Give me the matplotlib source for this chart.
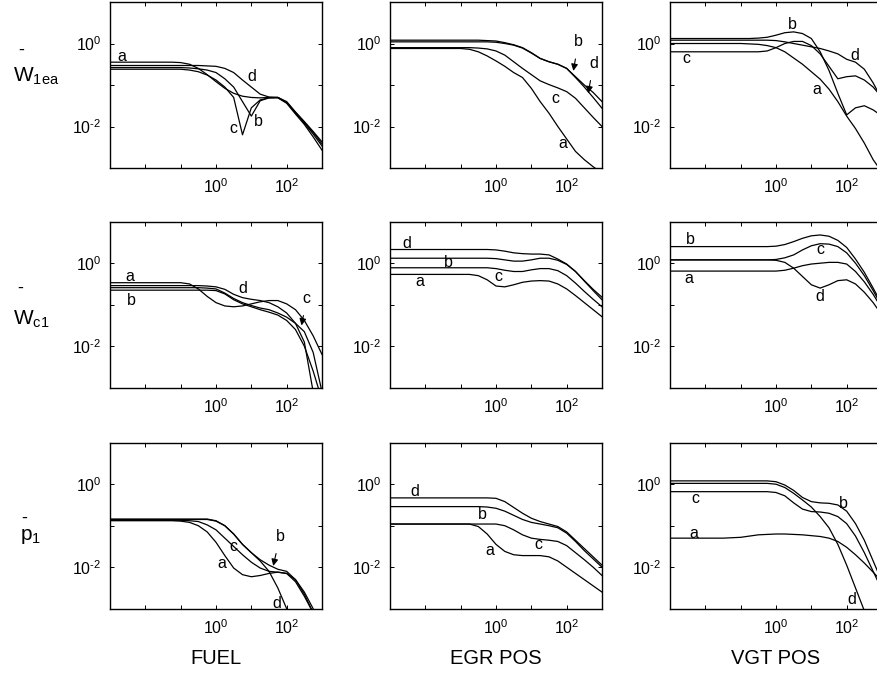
import numpy as np
import matplotlib
matplotlib.use("Agg")
import matplotlib.pyplot as plt
from matplotlib.ticker import FixedLocator, FuncFormatter, NullLocator

plt.rcParams['font.family'] = ['Liberation Sans', 'DejaVu Sans']
plt.rcParams['mathtext.fontset'] = 'custom'
plt.rcParams['mathtext.rm'] = 'Liberation Sans'
plt.rcParams['mathtext.it'] = 'Liberation Sans'
plt.rcParams['mathtext.default'] = 'regular'

# frequency grid, log10 (rad/s)
log_w = [-3.0, -2.75, -2.5, -2.25, -2.0, -1.75, -1.5, -1.25, -1.0, -0.75, -0.5, -0.25,
         0.0, 0.25, 0.5, 0.75, 1.0, 1.25, 1.5, 1.75, 2.0, 2.25, 2.5, 2.75, 3.0]

# magnitudes, log10
# row 1: W1ea
w1ea_fuel_a = [-0.45]*8 + [-0.46, -0.50, -0.60, -0.75, -0.92, -1.08, -1.20, -1.27, -1.30, -1.31, -1.30, -1.30, -1.42, -1.68, -1.92, -2.18, -2.47]
w1ea_fuel_b = [-0.58]*8 + [-0.58, -0.59, -0.61, -0.64, -0.70, -0.85, -1.05, -1.40, -1.75, -1.38, -1.31, -1.30, -1.42, -1.66, -1.90, -2.14, -2.42]
w1ea_fuel_c = [-0.62]*8 + [-0.62, -0.64, -0.68, -0.76, -0.88, -1.05, -1.30, -2.20, -1.55, -1.36, -1.31, -1.31, -1.44, -1.70, -1.95, -2.25, -2.57]
w1ea_fuel_d = [-0.53]*8 + [-0.53, -0.53, -0.53, -0.54, -0.55, -0.60, -0.70, -0.88, -1.05, -1.22, -1.29, -1.30, -1.40, -1.65, -1.88, -2.12, -2.37]

w1ea_egr_a = [-0.12]*8 + [-0.12, -0.14, -0.20, -0.30, -0.42, -0.55, -0.70, -0.82, -1.08, -1.40, -1.68, -2.00, -2.30, -2.60, -2.80, -2.97, -3.12]
w1ea_egr_b = [0.08]*8 + [0.08, 0.08, 0.08, 0.07, 0.06, 0.02, -0.03, -0.10, -0.22, -0.36, -0.44, -0.50, -0.60, -0.80, -1.00, -1.18, -1.40]
w1ea_egr_c = [-0.10]*8 + [-0.10, -0.10, -0.11, -0.13, -0.18, -0.28, -0.44, -0.60, -0.75, -0.90, -0.99, -1.07, -1.16, -1.32, -1.55, -1.78, -2.00]
w1ea_egr_d = [0.04]*8 + [0.04, 0.04, 0.04, 0.04, 0.03, 0.00, -0.04, -0.11, -0.23, -0.36, -0.44, -0.50, -0.60, -0.82, -1.05, -1.30, -1.56]

w1ea_vgt_a = [0.00]*8 + [0.00, -0.01, -0.02, -0.05, -0.10, -0.20, -0.35, -0.50, -0.68, -0.86, -1.10, -1.40, -1.75, -2.05, -2.40, -2.80, -3.10]
w1ea_vgt_b = [0.12]*8 + [0.12, 0.12, 0.13, 0.15, 0.20, 0.26, 0.28, 0.24, 0.12, -0.20, -0.65, -1.20, -1.72, -1.55, -1.50, -1.60, -1.75]
w1ea_vgt_c = [-0.20]*8 + [-0.20, -0.20, -0.20, -0.18, -0.10, 0.00, 0.05, 0.05, -0.05, -0.25, -0.55, -0.85, -0.80, -0.78, -0.88, -1.05, -1.30]
w1ea_vgt_d = [0.08]*8 + [0.08, 0.08, 0.08, 0.08, 0.07, 0.04, 0.00, -0.04, -0.08, -0.12, -0.18, -0.25, -0.38, -0.45, -0.62, -0.95, -1.35]

# row 2: Wc1
wc1_fuel_a = [-0.47]*8 + [-0.47, -0.50, -0.62, -0.80, -0.95, -1.03, -1.05, -1.03, -0.98, -0.93, -0.90, -0.90, -0.98, -1.12, -1.38, -1.75, -2.20]
wc1_fuel_b = [-0.65]*8 + [-0.65, -0.65, -0.65, -0.65, -0.66, -0.74, -0.88, -0.98, -1.05, -1.12, -1.18, -1.25, -1.38, -1.60, -2.00, -2.60, -3.30]
wc1_fuel_c = [-0.59]*8 + [-0.59, -0.59, -0.59, -0.60, -0.62, -0.72, -0.85, -0.95, -1.02, -1.08, -1.12, -1.20, -1.30, -1.45, -1.65, -2.15, -3.10]
wc1_fuel_d = [-0.54]*8 + [-0.54, -0.54, -0.54, -0.55, -0.57, -0.63, -0.75, -0.83, -0.87, -0.90, -0.95, -1.05, -1.20, -1.45, -1.90, -3.10, -3.50]

wc1_egr_a = [-0.27]*8 + [-0.27, -0.27, -0.30, -0.40, -0.55, -0.57, -0.52, -0.46, -0.43, -0.42, -0.43, -0.50, -0.62, -0.78, -0.95, -1.12, -1.29]
wc1_egr_b = [0.12]*8 + [0.12, 0.12, 0.12, 0.12, 0.11, 0.08, 0.05, 0.05, 0.08, 0.12, 0.12, 0.07, -0.03, -0.20, -0.43, -0.66, -0.88]
wc1_egr_c = [-0.11]*8 + [-0.11, -0.11, -0.11, -0.11, -0.13, -0.17, -0.20, -0.20, -0.16, -0.13, -0.13, -0.18, -0.30, -0.48, -0.68, -0.87, -1.05]
wc1_egr_d = [0.33]*8 + [0.33, 0.33, 0.33, 0.33, 0.32, 0.29, 0.25, 0.23, 0.22, 0.22, 0.20, 0.10, -0.02, -0.20, -0.42, -0.63, -0.82]

wc1_vgt_a = [-0.19]*8 + [-0.19, -0.19, -0.19, -0.19, -0.19, -0.17, -0.12, -0.06, -0.02, 0.00, 0.02, 0.02, -0.02, -0.20, -0.45, -0.75, -1.10]
wc1_vgt_b = [0.40]*8 + [0.40, 0.40, 0.40, 0.40, 0.41, 0.45, 0.52, 0.60, 0.66, 0.68, 0.65, 0.55, 0.38, 0.10, -0.22, -0.60, -1.00]
wc1_vgt_c = [0.08]*8 + [0.08, 0.08, 0.08, 0.08, 0.09, 0.13, 0.20, 0.32, 0.42, 0.47, 0.46, 0.40, 0.25, 0.00, -0.30, -0.66, -1.05]
wc1_vgt_d = [0.08]*8 + [0.08, 0.08, 0.08, 0.08, 0.07, 0.02, -0.12, -0.32, -0.52, -0.60, -0.52, -0.42, -0.40, -0.50, -0.70, -0.95, -1.25]

# row 3: p1
p1_fuel_a = [-0.88]*8 + [-0.89, -0.92, -1.00, -1.15, -1.40, -1.72, -2.02, -2.18, -2.23, -2.20, -2.15, -2.12, -2.15, -2.35, -2.70, -3.10, -3.50]
p1_fuel_b = [-0.84]*8 + [-0.84, -0.84, -0.84, -0.84, -0.88, -1.00, -1.20, -1.45, -1.65, -1.82, -1.95, -2.05, -2.10, -2.30, -2.60, -3.00, -3.40]
p1_fuel_c = [-0.87]*8 + [-0.87, -0.88, -0.90, -0.98, -1.10, -1.30, -1.50, -1.70, -1.88, -2.02, -2.10, -2.12, -2.15, -2.30, -2.65, -3.10, -3.50]
p1_fuel_d = [-0.85]*8 + [-0.85, -0.85, -0.85, -0.85, -0.89, -1.00, -1.20, -1.45, -1.65, -1.85, -2.10, -2.50, -3.00, -3.50, -4.00, -4.50, -5.00]

p1_egr_a = [-0.96]*8 + [-0.96, -0.96, -1.02, -1.20, -1.45, -1.62, -1.70, -1.72, -1.72, -1.72, -1.75, -1.85, -2.00, -2.15, -2.30, -2.45, -2.60]
p1_egr_b = [-0.54]*8 + [-0.54, -0.54, -0.54, -0.55, -0.58, -0.65, -0.75, -0.85, -0.92, -0.96, -1.00, -1.05, -1.18, -1.38, -1.60, -1.80, -2.00]
p1_egr_c = [-0.96]*8 + [-0.96, -0.96, -0.96, -0.96, -0.96, -1.00, -1.10, -1.22, -1.30, -1.33, -1.35, -1.38, -1.48, -1.65, -1.82, -2.00, -2.20]
p1_egr_d = [-0.33]*8 + [-0.33, -0.33, -0.33, -0.33, -0.34, -0.42, -0.56, -0.70, -0.82, -0.90, -0.96, -1.02, -1.15, -1.35, -1.55, -1.75, -1.95]

p1_vgt_a = [-1.30]*6 + [-1.30, -1.29, -1.28, -1.25, -1.22, -1.21, -1.20, -1.20, -1.21, -1.22, -1.24, -1.26, -1.30, -1.38, -1.52, -1.70, -1.90, -2.12, -2.35]
p1_vgt_b = [0.08]*8 + [0.08, 0.08, 0.08, 0.08, 0.06, -0.02, -0.15, -0.32, -0.42, -0.45, -0.46, -0.50, -0.65, -0.95, -1.35, -1.85, -2.35]
p1_vgt_c = [-0.18]*8 + [-0.18, -0.18, -0.18, -0.18, -0.20, -0.28, -0.45, -0.60, -0.66, -0.67, -0.70, -0.78, -0.95, -1.25, -1.65, -2.10, -2.55]
p1_vgt_d = [0.02]*8 + [0.02, 0.02, 0.02, 0.02, 0.00, -0.08, -0.22, -0.38, -0.55, -0.78, -1.05, -1.45, -1.95, -2.50, -3.05, -3.60, -4.20]

row_labels = [r'$W_{1ea}$', r'$W_{c1}$', r'$p_1$']
col_labels = ['FUEL', 'EGR POS', 'VGT POS']

curves = [
    [[w1ea_fuel_a, w1ea_fuel_b, w1ea_fuel_c, w1ea_fuel_d],
     [w1ea_egr_a, w1ea_egr_b, w1ea_egr_c, w1ea_egr_d],
     [w1ea_vgt_a, w1ea_vgt_b, w1ea_vgt_c, w1ea_vgt_d]],
    [[wc1_fuel_a, wc1_fuel_b, wc1_fuel_c, wc1_fuel_d],
     [wc1_egr_a, wc1_egr_b, wc1_egr_c, wc1_egr_d],
     [wc1_vgt_a, wc1_vgt_b, wc1_vgt_c, wc1_vgt_d]],
    [[p1_fuel_a, p1_fuel_b, p1_fuel_c, p1_fuel_d],
     [p1_egr_a, p1_egr_b, p1_egr_c, p1_egr_d],
     [p1_vgt_a, p1_vgt_b, p1_vgt_c, p1_vgt_d]],
]

# curve letters: (letter, text x, text y, arrow tip or None) in log10 units
letters = [
    [[('a', -2.67, -0.32, None), ('d', 1.01, -0.80, None), ('c', 0.49, -2.04, None), ('b', 1.20, -1.88, None)],
     [('b', 2.33, 0.04, (2.19, -0.66)), ('d', 2.76, -0.48, (2.61, -1.20)), ('c', 1.67, -1.32, None), ('a', 1.90, -2.40, None)],
     [('b', 0.46, 0.45, None), ('d', 2.24, -0.28, None), ('c', -2.53, -0.36, None), ('a', 1.15, -1.10, None)]],
    [[('a', -2.43, -0.33, None), ('b', -2.39, -0.89, None), ('d', 0.77, -0.62, None), ('c', 2.57, -0.85, (2.42, -1.50))],
     [('d', -2.53, 0.48, None), ('b', -1.35, 0.01, None), ('c', 0.07, -0.33, None), ('a', -2.15, -0.43, None)],
     [('b', -2.43, 0.56, None), ('c', 1.25, 0.32, None), ('a', -2.48, -0.36, None), ('d', 1.25, -0.81, None)]],
    [[('b', 1.81, -1.26, (1.62, -1.97)), ('c', 0.49, -1.51, None), ('a', 0.16, -1.90, None), ('d', 1.72, -2.87, None)],
     [('d', -2.29, -0.18, None), ('b', -0.40, -0.74, None), ('c', 1.20, -1.46, None), ('a', -0.17, -1.59, None)],
     [('c', -2.29, -0.34, None), ('b', 1.90, -0.46, None), ('a', -2.34, -1.18, None), ('d', 2.14, -2.79, None)]],
]

W, H = 877, 677
fig = plt.figure(figsize=(W / 100, H / 100), dpi=100)

lefts = [110, 390, 670]
tops = [2, 221.7, 442.7]
aw, ah = 212, 166

w = 10 ** np.array(log_w)


def fmt(labels):
    def f(v, pos):
        e = int(round(np.log10(v)))
        if e not in labels:
            return ''
        if e < 0:
            return r'$10^{\text{-}%d}$' % (-e)
        return r'$10^{%d}$' % e
    return FuncFormatter(f)


for r in range(3):
    for c in range(3):
        ax = fig.add_axes([lefts[c] / W, 1 - (tops[r] + ah) / H, aw / W, ah / H])
        for vals in curves[r][c]:
            ax.loglog(w, 10 ** np.array(vals), color='k', lw=0.9)
        ax.set_xlim(1e-3, 1e3)
        ax.set_ylim(1e-3, 1e1)
        ax.xaxis.set_major_locator(FixedLocator(10.0 ** np.arange(-3, 4)))
        ax.yaxis.set_major_locator(FixedLocator(10.0 ** np.arange(-3, 2)))
        ax.xaxis.set_minor_locator(NullLocator())
        ax.yaxis.set_minor_locator(NullLocator())
        ax.xaxis.set_major_formatter(fmt([0, 2]))
        ax.yaxis.set_major_formatter(fmt([0, -2]))
        ax.tick_params(which='both', direction='in', top=True, right=True,
                       length=3, width=0.7, labelsize=11.5)
        ax.tick_params(axis='x', pad=7)
        ax.tick_params(axis='y', pad=6)
        for s in ax.spines.values():
            s.set_linewidth(1.0)
        for txt, lx, ly, tip in letters[r][c]:
            if tip is None:
                ax.text(10 ** lx, 10 ** ly, txt, ha='center', va='center', fontsize=11.5)
            else:
                ax.annotate(txt, xy=(10 ** tip[0], 10 ** tip[1]), xytext=(10 ** lx, 10 ** ly),
                            ha='center', va='center', fontsize=11.5,
                            arrowprops=dict(arrowstyle='-|>', color='k', lw=0.8,
                                            shrinkA=5, shrinkB=0, mutation_scale=10))

# row labels: symbol with a short bar above it
row_x = [13, 13, 20]
row_base = [82, 325, 540]
bar_pos = [(21.5, 50), (20.5, 288), (24.5, 518)]
for r in range(3):
    fig.text(row_x[r] / W, 1 - row_base[r] / H, row_labels[r], ha='left', va='baseline', fontsize=15)
    fig.text(bar_pos[r][0] / W, 1 - bar_pos[r][1] / H, '-', ha='center', va='center', fontsize=13)

for c in range(3):
    fig.text((lefts[c] + aw / 2) / W, 1 - 658 / H, col_labels[c], ha='center', va='center', fontsize=14.5)

fig.savefig('out.png', dpi=100)
